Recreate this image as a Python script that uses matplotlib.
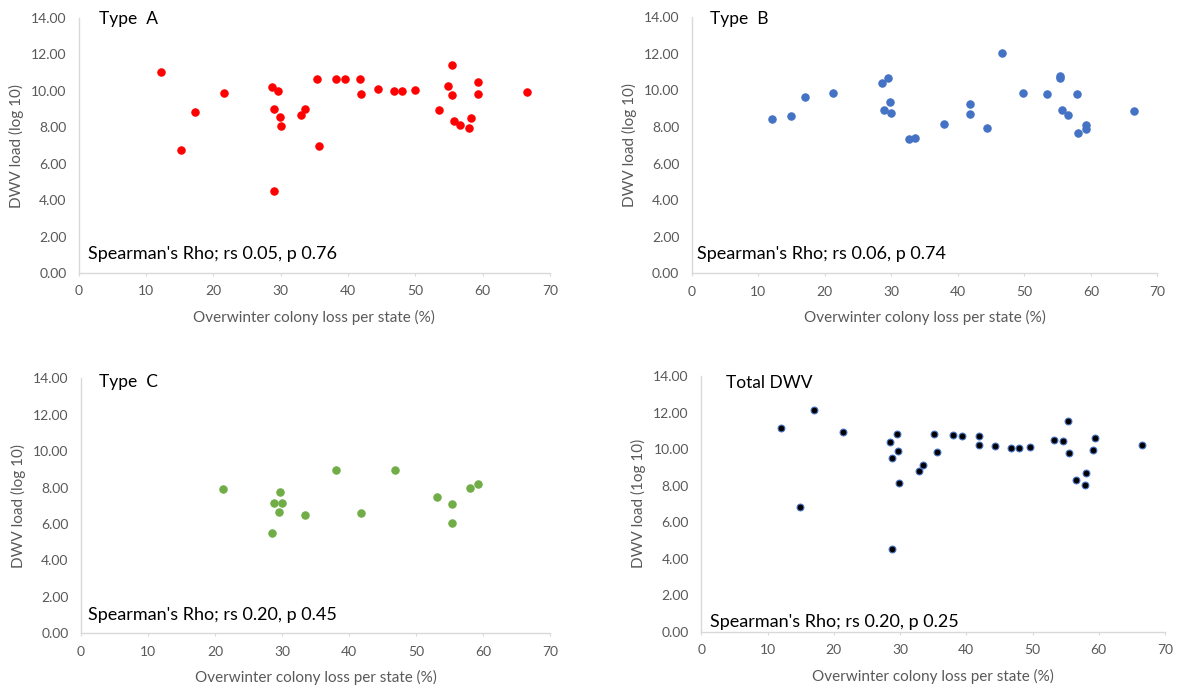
import matplotlib
matplotlib.use("Agg")
import matplotlib.pyplot as plt
from matplotlib.ticker import FormatStrFormatter

plt.rcParams["font.family"] = ["Lato", "DejaVu Sans"]

# Type A
a_loss = [12.2, 15.1, 17.25, 21.5, 28.75, 29.65, 29.05, 29.9, 30.05, 29.05, 33.0,
          33.6, 35.45, 35.75, 38.2, 39.5, 41.85, 42.0, 44.5, 46.9, 48.0, 49.9,
          53.5, 54.8, 55.5, 55.5, 55.8, 56.7, 58.0, 58.3, 59.4, 59.3, 66.6]
a_load = [11.04, 6.78, 8.85, 9.87, 10.24, 9.98, 9.02, 8.55, 8.05, 4.49, 8.69,
          9.02, 10.67, 7.0, 10.67, 10.64, 10.64, 9.82, 10.09, 9.98, 9.98, 10.04,
          8.96, 10.29, 11.42, 9.76, 8.33, 8.11, 7.95, 8.49, 10.51, 9.82, 9.93]

# Type B
b_loss = [12.07, 14.98, 16.98, 21.29, 28.6, 29.56, 29.81, 28.9, 29.96, 32.7,
          33.5, 38.0, 41.8, 41.8, 44.4, 46.7, 49.8, 53.36, 55.36, 55.36, 55.66,
          56.5, 57.86, 58.0, 59.2, 59.3, 66.5]
b_load = [8.42, 8.59, 9.64, 9.86, 10.41, 10.66, 9.37, 8.95, 8.79, 7.35,
          7.40, 8.15, 9.28, 8.73, 7.93, 12.05, 9.86, 9.81, 10.77, 10.66, 8.95,
          8.64, 9.81, 7.67, 8.09, 7.89, 8.86]

# Type C
c_loss = [21.24, 28.56, 28.8, 29.7, 29.55, 30.05, 33.48, 38.0, 41.8, 46.8,
          53.2, 55.4, 55.4, 58.06, 59.2]
c_load = [7.92, 5.51, 7.17, 7.76, 6.68, 7.17, 6.48, 8.99, 6.63, 8.99,
          7.49, 7.12, 6.06, 7.98, 8.18]

# Total DWV
t_loss = [12.03, 14.85, 17.06, 21.34, 28.54, 29.6, 28.84, 29.74, 29.84, 28.84,
          32.81, 33.47, 35.18, 35.63, 38.0, 39.36, 41.87, 41.87, 44.34, 46.7,
          47.9, 49.67, 53.2, 54.65, 55.4, 55.46, 56.6, 58.0, 57.9, 59.2, 59.4, 66.48]
t_load = [11.17, 6.84, 12.14, 10.91, 10.39, 10.8, 9.53, 9.89, 8.12, 4.54,
          8.78, 9.14, 10.8, 9.84, 10.75, 10.7, 10.7, 10.2, 10.15, 10.06,
          10.06, 10.09, 10.48, 10.42, 11.55, 9.8, 8.29, 8.71, 8.01, 9.95, 10.6, 10.2]

x_label = "Overwinter colony loss per state (%)"
gray = "#595959"
spine = "#d9d9d9"

fig = plt.figure(figsize=(11.8, 6.89), dpi=100)

panels = [
    # rect, x, y, face, edge, title, title pos, stats, stats pos, ylabel
    ([0.0669, 0.6038, 0.399, 0.370], a_loss, a_load, "#ff0000", "#ff0000",
     "Type  A", (0.042, 0.995), "Spearman's Rho; rs 0.05, p 0.76", (0.019, 0.075),
     "DWV load (log 10)"),
    ([0.5862, 0.6033, 0.3946, 0.3716], b_loss, b_load, "#4472c4", "#4472c4",
     "Type  B", (0.039, 0.995), "Spearman's Rho; rs 0.06, p 0.74", (0.012, 0.075),
     "DWV load (log 10)"),
    ([0.0686, 0.0808, 0.3975, 0.370], c_loss, c_load, "#70ad47", "#70ad47",
     "Type  C", (0.039, 0.987), "Spearman's Rho; rs 0.20, p 0.45", (0.015, 0.072),
     "DWV load (log 10)"),
    ([0.5943, 0.0832, 0.393, 0.371], t_loss, t_load, "#000000", "#4472c4",
     "Total DWV", (0.053, 0.974), "Spearman's Rho; rs 0.20, p 0.25", (0.019, 0.037),
     "DWV load (1og 10)"),
]

for rect, xs, ys, fc, ec, title, tpos, stats, spos, ylab in panels:
    ax = fig.add_axes(rect)
    msize = 28 if fc != "#000000" else 24
    ax.scatter(xs, ys, s=msize, c=fc, edgecolors=ec, linewidths=0.8, zorder=3)
    ax.set_xlim(0, 70)
    ax.set_ylim(0, 14)
    ax.set_xticks(range(0, 71, 10))
    ax.set_yticks(range(0, 15, 2))
    ax.yaxis.set_major_formatter(FormatStrFormatter("%.2f"))
    for s in ["top", "right"]:
        ax.spines[s].set_visible(False)
    for s in ["left", "bottom"]:
        ax.spines[s].set_color(spine)
        ax.spines[s].set_linewidth(1.0)
    ax.tick_params(axis="y", length=0, pad=9, labelsize=10, labelcolor=gray)
    ax.tick_params(axis="x", length=2, color=spine, pad=7, labelsize=10, labelcolor=gray)
    ax.set_xlabel(x_label, fontsize=11, color=gray, labelpad=9)
    ax.set_ylabel(ylab, fontsize=11, color=gray, labelpad=5)
    ax.text(tpos[0], tpos[1], title, transform=ax.transAxes, fontsize=12.5,
            color="black", va="center", ha="left")
    ax.text(spos[0], spos[1], stats, transform=ax.transAxes, fontsize=13,
            color="black", va="center", ha="left")

fig.savefig("out.png", dpi=100)
